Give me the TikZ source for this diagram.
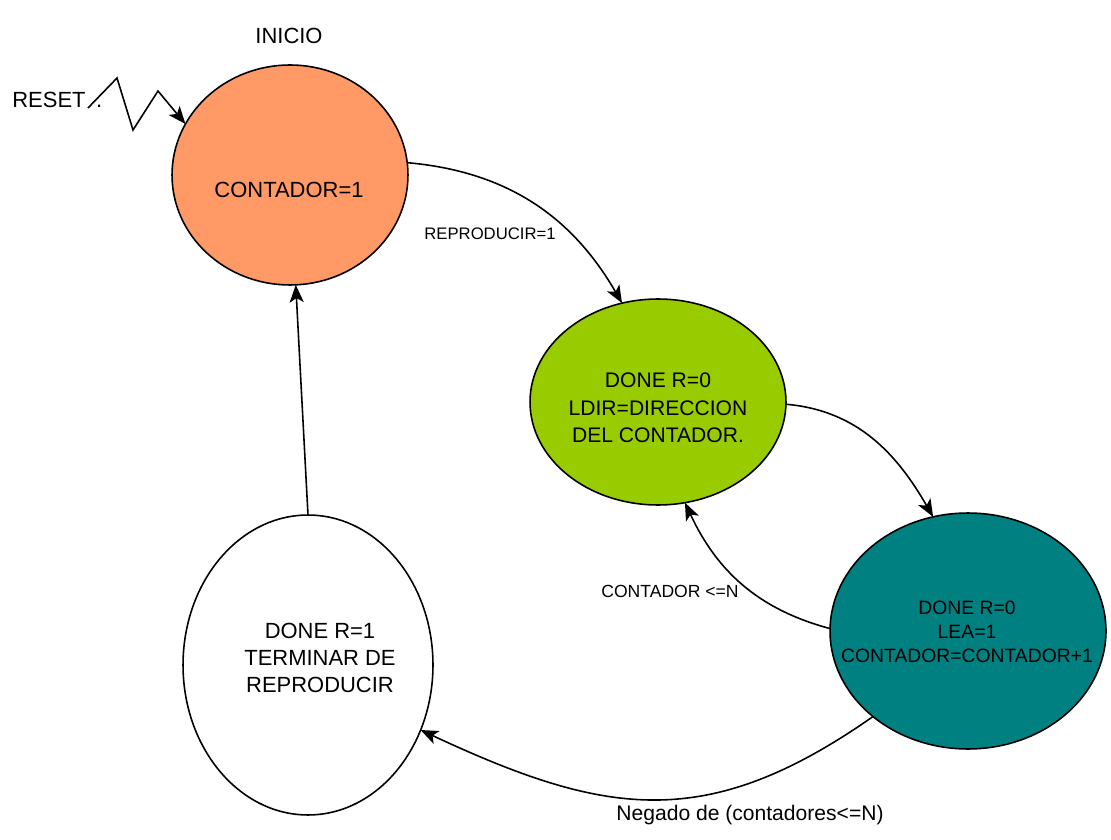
\documentclass[tikz,border=0pt]{standalone}
\usepackage{fontspec}
\setmainfont{Liberation Sans}
\usetikzlibrary{arrows.meta,shapes.geometric}
\definecolor{naranja}{HTML}{FF9966}
\definecolor{verde}{HTML}{99CC00}
\definecolor{turquesa}{HTML}{008080}

\begin{document}
\begin{tikzpicture}[x=0.02cm,y=0.02cm,
			estado/.style={draw=black,line width=0.9pt,ellipse,inner sep=0pt,outer sep=0pt},
			texto/.style={align=center,inner sep=0pt,font=\fontsize{12.5}{15.4}\selectfont},
			etiq/.style={inner sep=0pt,font=\fontsize{9.5}{11}\selectfont},
			flecha/.style={line width=0.9pt,-{Stealth[length=10pt,width=8pt,inset=2.5pt]}}
			]
			\useasboundingbox (0,0) rectangle (1111,839);
			\node[estado,fill=naranja,minimum width=4.72cm,minimum height=4.4cm] (ini) at (290,664) {};
			\node[estado,fill=verde,minimum width=5.12cm,minimum height=4.12cm] (dir) at (658,437) {};
			\node[estado,fill=turquesa,minimum width=5.52cm,minimum height=4.72cm] (cont) at (968,208) {};
			\node[estado,fill=white,minimum width=5cm,minimum height=6cm] (fin) at (308,174) {};
			\node[texto] (tini) at (289,649) {CONTADOR=1};
			\node[texto,font=\fontsize{12}{15.6}\selectfont] (tdir) at (658,431) {DONE R=0\\LDIR=DIRECCION\\ DEL CONTADOR.};
			\node[texto,font=\fontsize{11}{13.7}\selectfont] (tcont) at (967,207) {DONE R=0\\LEA=1\\CONTADOR=CONTADOR+1};
			\node[texto] (tfin) at (320,181) {DONE R=1\\TERMINAR DE\\REPRODUCIR};
			\node[texto] (tinicio) at (289,803) {INICIO};
			\node[texto,anchor=base west] (treset) at (12,731) {RESET\hspace{6pt}.};
			% reset
			\coordinate (rs) at (88,731);
			\draw[flecha] (rs) -- (117,761) -- (133,709) -- (158,748) -- (ini.154);
			% transiciones
			\draw[flecha] (ini.6) to[out=-5,in=120] (dir.110);
			\draw[flecha] (dir.-1) to[out=-5,in=120] (cont.107);
			\draw[flecha] (cont.179) to[out=165,in=-65] (dir.-75);
			\draw[flecha] (cont.-138) to[out=-145,in=-25,looseness=1.15] (fin.-30);
			\draw[flecha] (fin.north) -- (ini.-87);
			\node[etiq] (lrep) at (490,605) {REPRODUCIR=1};
			\node[etiq,font=\fontsize{10}{12}\selectfont] (lcont) at (670,248) {CONTADOR <=N};
			\node[texto,font=\fontsize{12}{14}\selectfont] (lneg) at (750,24) {Negado de (contadores<=N)};
		\end{tikzpicture}
\end{document}
